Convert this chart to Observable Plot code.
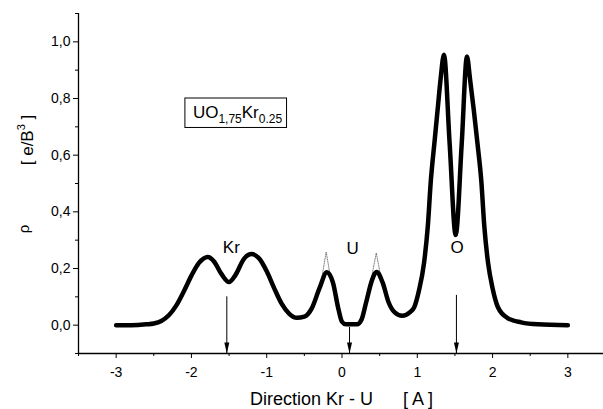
<!DOCTYPE html>
<html><head><meta charset="utf-8">
<script src="https://cdn.jsdelivr.net/npm/d3@7"></script>
<script src="https://cdn.jsdelivr.net/npm/@observablehq/plot@0.6"></script>
<style>
html,body{margin:0;padding:0;background:#fff;}
#chart svg{display:block;}
</style></head><body><div id="chart"></div>
<script>
// Electron density along the Kr–U direction
const curveX = [-3.0,-2.8,-2.6,-2.5,-2.4,-2.3,-2.2,-2.1,-2.0,-1.9,-1.78,-1.7,-1.6,-1.5,-1.42,-1.3,-1.2,-1.1,-1.0,-0.9,-0.8,-0.7,-0.6,-0.5,-0.4,-0.3,-0.2,-0.12,-0.05,0.0,0.05,0.2,0.26,0.32,0.4,0.46,0.54,0.62,0.7,0.8,0.9,0.96,1.02,1.09,1.14,1.18,1.23,1.27,1.31,1.354,1.43,1.51,1.59,1.66,1.70,1.75,1.80,1.85,1.89,1.94,2.0,2.07,2.2,2.38,2.6,3.0];
const curveY = [0.0,0.0,0.003,0.006,0.015,0.035,0.07,0.12,0.175,0.22,0.241,0.225,0.18,0.152,0.175,0.235,0.251,0.235,0.19,0.13,0.075,0.04,0.026,0.03,0.06,0.13,0.187,0.15,0.06,0.012,0.003,0.003,0.02,0.08,0.16,0.188,0.15,0.08,0.045,0.033,0.045,0.064,0.12,0.22,0.35,0.51,0.65,0.76,0.87,0.954,0.64,0.318,0.64,0.948,0.87,0.76,0.64,0.51,0.35,0.22,0.13,0.064,0.025,0.01,0.003,0.0];
// dotted caps above the two U peaks
const capLeftX = [-0.27,-0.21,-0.15];
const capLeftY = [0.165,0.258,0.165];
const capRightX = [0.39,0.455,0.52];
const capRightY = [0.165,0.255,0.165];
// atom position arrows
const arrowX = [-1.53, 0.1, 1.52];
const arrowTop = [0.10, -0.008, 0.105];
// peak labels
const peakLabels = ["Kr","U","O"];
const labelX = [-1.47, 0.14, 1.53];
const labelY = [0.275, 0.27, 0.275];
// ticks
const xTicks = [-3,-2,-1,0,1,2,3];
const xMinor = [-3.5,-2.5,-1.5,-0.5,0.5,1.5,2.5,3.5];
const yTicks = [0,0.2,0.4,0.6,0.8,1.0];
const yMinor = [-0.1,0.1,0.3,0.5,0.7,0.9,1.1];
// legend box corners (data units)
const boxX = [-2.08, -0.73];
const boxY = [0.696, 0.80];

const FONT = '"Liberation Sans", Arial, sans-serif';
const headSymbol = {draw(ctx){ ctx.moveTo(0,0); ctx.lineTo(-2.5,-11); ctx.lineTo(2.5,-11); ctx.closePath(); }};

const plot = Plot.plot({
  width: 603, height: 409,
  marginLeft: 78, marginRight: 0, marginTop: 13, marginBottom: 56,
  x: {domain: [-3.5, 3.5], range: [78, 605], label: null},
  y: {domain: [-0.1, 1.1], label: null},
  style: {fontFamily: FONT, fontSize: "14px", color: "black", background: "white"},
  marks: [
    Plot.axisX(xTicks, {tickSize: 5, tickPadding: 9, fontSize: 14, tickFormat: d => d < 0 ? "-" + Math.abs(d) : String(d), label: null}),
    Plot.axisX(xMinor, {tickSize: 3, tickFormat: () => "", label: null}),
    Plot.axisY(yTicks, {tickSize: 5, tickPadding: 3, fontSize: 14, tickFormat: d => d.toFixed(1).replace(".", ","), label: null}),
    Plot.axisY(yMinor, {tickSize: 3, tickFormat: () => "", label: null}),
    Plot.ruleX([-3.5], {stroke: "black", strokeWidth: 1.3}),
    Plot.ruleY([-0.1], {stroke: "black", strokeWidth: 1.3}),
    Plot.line(capLeftY, {x: capLeftX, y: capLeftY, stroke: "#666", strokeWidth: 0.8, strokeDasharray: "1.2,1.2"}),
    Plot.line(capRightY, {x: capRightX, y: capRightY, stroke: "#666", strokeWidth: 0.8, strokeDasharray: "1.2,1.2"}),
    Plot.line(curveY, {x: curveX, y: curveY, curve: "monotone-x", stroke: "black", strokeWidth: 4.5, strokeLinejoin: "round", strokeLinecap: "round"}),
    Plot.ruleX(arrowX, {x: arrowX, y1: arrowTop, y2: -0.1, stroke: "black", strokeWidth: 1}),
    Plot.dot(arrowX, {x: arrowX, y: -0.1, symbol: headSymbol, r: 5, fill: "black", stroke: null}),
    Plot.text(peakLabels, {x: labelX, y: labelY, text: d => d, fontSize: 17, fill: "black"}),
    Plot.rect([0], {x1: boxX[0], x2: boxX[1], y1: boxY[0], y2: boxY[1], fill: "none", stroke: "black", strokeWidth: 1})
  ]
});

const svg = d3.select(plot);
const sx = plot.scale("x"), sy = plot.scale("y");
// legend formula
const t = svg.append("text")
  .attr("x", sx.apply(boxX[0]) + 8)
  .attr("y", sy.apply(boxY[0]) - 9)
  .attr("text-anchor", "start")
  .attr("font-family", FONT).attr("font-size", 17).attr("fill", "black");
t.append("tspan").text("UO");
t.append("tspan").attr("font-size", 12).attr("dy", 5).text("1,75");
t.append("tspan").attr("dy", -5).text("Kr");
t.append("tspan").attr("font-size", 12).attr("dy", 5).text("0.25");

// y axis title
svg.append("text")
  .attr("transform", "translate(29,229) rotate(-90)")
  .attr("text-anchor", "middle")
  .attr("font-family", FONT).attr("font-size", 15).attr("fill", "black")
  .text("ρ");
const yl = svg.append("text")
  .attr("transform", "translate(33,140) rotate(-90)")
  .attr("text-anchor", "middle")
  .attr("font-family", FONT).attr("font-size", 17).attr("fill", "black");
yl.append("tspan").text("[ e/B");
yl.append("tspan").attr("font-size", 11).attr("dy", -8).text("3");
yl.append("tspan").attr("dy", 8).text(" ]");

// x axis title
svg.append("text")
  .attr("x", 250).attr("y", 405)
  .attr("text-anchor", "start")
  .attr("font-family", FONT).attr("font-size", 18).attr("fill", "black")
  .text("Direction Kr - U");
svg.append("text")
  .attr("x", 403).attr("y", 405)
  .attr("text-anchor", "start")
  .attr("font-family", FONT).attr("font-size", 18).attr("fill", "black")
  .text("[ A ]");

document.getElementById("chart").appendChild(plot);
</script>
</body></html>
